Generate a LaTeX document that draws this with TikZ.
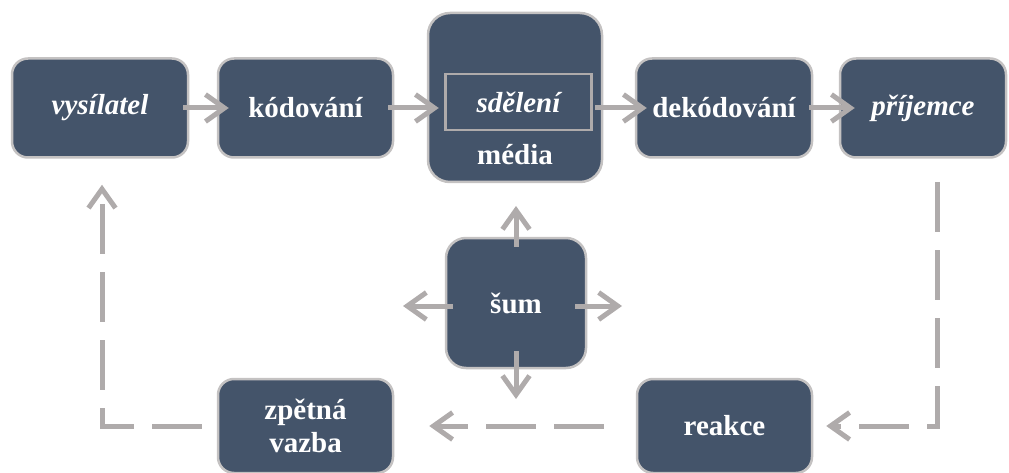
\documentclass[tikz,border=0pt]{standalone}
\usepackage{fontspec}
\setmainfont{Liberation Serif}
\usetikzlibrary{arrows.meta}
\definecolor{boxblue}{HTML}{44546A}
\definecolor{boxedge}{HTML}{C4C2C2}
\definecolor{arrowgray}{HTML}{AFABAB}
\begin{document}
\begin{tikzpicture}[x=1pt, y=-1pt,
    block/.style={draw=boxedge, line width=2.5pt, fill=boxblue, rounded corners=16pt,
        inner sep=0pt, text=white, font=\fontsize{29}{33}\selectfont\bfseries, align=center},
    plain/.style={inner sep=0pt, text=white, font=\fontsize{29}{33}\selectfont\bfseries},
    flow/.style={draw=arrowgray, line width=5pt, -{Straight Barb[length=19pt,width=27pt]}},
    dashline/.style={flow, dash pattern=on 50pt off 18pt}]
    \useasboundingbox (0,0) rectangle (1009,473);
    % top row
    \node[block, minimum width=176pt, minimum height=99pt] (vys) at (100,108) {\itshape vysílatel};
    \node[block, minimum width=175pt, minimum height=99pt] (kod) at (305.5,108) {kódování};
    \node[block, rounded corners=22pt, minimum width=174pt, minimum height=169pt] (media) at (515,97.5) {};
    \node[draw=arrowgray, line width=2.5pt, inner sep=0pt, minimum width=146pt, minimum height=56pt,
        plain, font=\fontsize{29}{33}\selectfont\bfseries\itshape] (sdel) at (518.5,102) {sdělení};
    \node[plain] (medtxt) at (515,155) {média};
    \node[block, minimum width=176pt, minimum height=99pt] (dek) at (724,108) {dekódování};
    \node[block, minimum width=166pt, minimum height=99pt] (pri) at (923,108) {\itshape příjemce};
    % noise
    \node[block, rounded corners=20pt, minimum width=140pt, minimum height=130pt] (sum) at (516,303) {šum};
    % bottom row
    \node[block, minimum width=175pt, minimum height=94pt] (zpet) at (305.5,426) {zpětná\\vazba};
    \node[block, minimum width=175pt, minimum height=94pt] (reak) at (724.5,426) {reakce};
    % arrow ends
    \coordinate (nup) at (516,206);
    \coordinate (ndown) at (516,399);
    \coordinate (nleft) at (403,306);
    \coordinate (nright) at (622,306);
    \coordinate (rtop) at (937,182);
    % forward arrows
    \draw[flow] ([xshift=-6pt]vys.east) -- ([xshift=12pt]kod.west);
    \draw[flow] ([xshift=-6pt]kod.east) -- ([xshift=12pt]media.west |- kod.east);
    \draw[flow] ([xshift=-8pt]media.east |- dek.west) -- ([xshift=12pt]dek.west);
    \draw[flow] ([xshift=-4pt]dek.east) -- ([xshift=16pt]pri.west);
    % noise arrows
    \draw[flow] ([yshift=-10pt]sum.north) -- (nup);
    \draw[flow] ([yshift=18pt]sum.south) -- (ndown);
    \draw[flow] ([xshift=8pt]sum.west |- nleft) -- (nleft);
    \draw[flow] ([xshift=-12pt]sum.east |- nright) -- (nright);
    % feedback loop
    \draw[dashline] (rtop) |- ([xshift=13pt]reak.east);
    \draw[dashline, shorten <=32pt] (reak.west) -- ([xshift=35pt]zpet.east);
    \draw[dashline, shorten <=15pt] (zpet.west) -| ([xshift=2pt, yshift=-26pt]vys.south);
\end{tikzpicture}
\end{document}
